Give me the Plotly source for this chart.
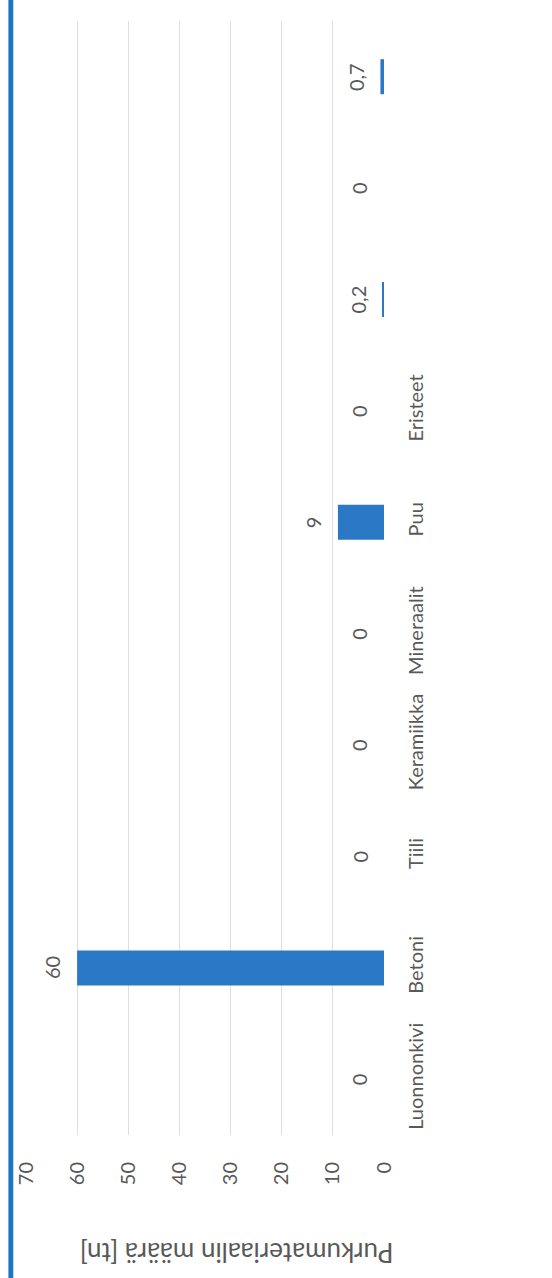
import plotly.graph_objects as go

categories = ["Luonnonkivi", "Betoni", "Tiili", "Keramiikka", "Mineraalit",
              "Puu", "Eristeet", "Luokka 8", "Luokka 9", "Luokka 10"]
tick_labels = ["Luonnonkivi", "Betoni", "Tiili", "Keramiikka", "Mineraalit",
               "Puu", "Eristeet", "", "", ""]
values = [0, 60, 0, 0, 0, 9, 0, 0.2, 0, 0.7]
value_ticks = [0, 10, 20, 30, 40, 50, 60, 70]
axis_title = "Purkumateriaalin määrä [tn]"

FONT = "Lato"
GREY = "#595959"
BLUE = "#2a78c6"

W, H = 552, 1278
ml, mr, mt, mb = 18, 168, 21, 143
pw, ph = W - ml - mr, H - mt - mb

fig = go.Figure()
fig.add_trace(go.Bar(
    x=values, y=categories, orientation="h",
    marker=dict(color=BLUE, line=dict(width=0)),
    hoverinfo="skip",
))

for c, v in zip(categories, values):
    fig.add_annotation(
        x=v, y=c, xref="x", yref="y",
        text=f"{v:g}".replace(".", ","),
        textangle=-90, showarrow=False,
        xanchor="center", yanchor="middle", xshift=-25,
        font=dict(family=FONT, size=20, color=GREY),
    )

fig.add_annotation(
    x=(233 - ml) / pw, y=(ph - (1253 - mt)) / ph, xref="paper", yref="paper",
    text=axis_title, textangle=180, showarrow=False,
    xanchor="center", yanchor="middle",
    font=dict(family=FONT, size=26, color=GREY),
)

# scan border strip on the left edge
fig.add_shape(
    type="rect", xref="paper", yref="paper",
    x0=-ml / pw, x1=(5 - ml) / pw, y0=-mb / ph, y1=1 + mt / ph,
    fillcolor="#1c74c6", line=dict(width=0), layer="above",
)

fig.update_layout(
    width=W, height=H,
    margin=dict(l=ml, r=mr, t=mt, b=mb, pad=0),
    paper_bgcolor="white", plot_bgcolor="white",
    showlegend=False,
    bargap=0.686,
    font=dict(family=FONT, size=20, color=GREY),
    xaxis=dict(
        range=[70, 0], tickvals=value_ticks, ticktext=[str(t) for t in value_ticks],
        tickangle=-90, showgrid=True, gridcolor="#dedede", gridwidth=1,
        zeroline=False, showline=False, ticks="", ticklabelstandoff=22,
        tickfont=dict(family=FONT, size=20, color=GREY),
    ),
    yaxis=dict(
        type="category", categoryorder="array", categoryarray=categories,
        tickvals=categories, ticktext=tick_labels,
        side="right", tickangle=-90, showgrid=False, zeroline=False,
        showline=False, ticks="", ticklabelstandoff=18,
        tickfont=dict(family=FONT, size=20, color=GREY),
    ),
)

fig.write_html(
    "out.html",
    config={"displayModeBar": False},
    post_script="document.body.style.margin='0';document.body.style.overflow='hidden';",
)
